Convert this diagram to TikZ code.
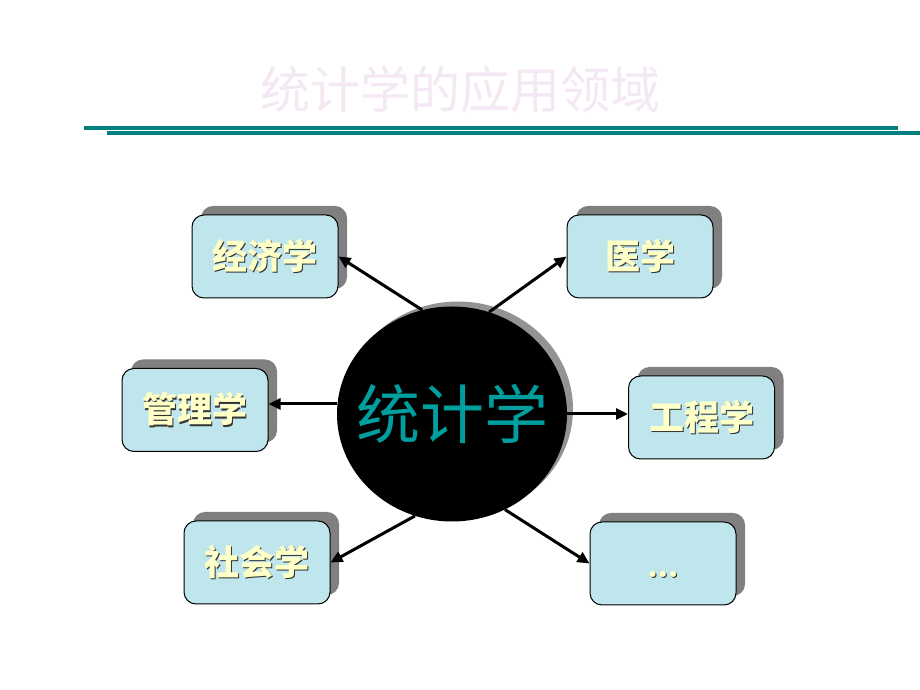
\documentclass[tikz,border=0pt]{standalone}
\usepackage{fontspec}
\newfontfamily\cjk{Noto Sans CJK SC}
\usetikzlibrary{arrows.meta, shapes.geometric, shadows}

\definecolor{boxfill}{RGB}{190,230,236}
\definecolor{tealline}{RGB}{0,128,128}
\definecolor{stattext}{RGB}{0,158,158}
\definecolor{labelyellow}{RGB}{255,255,200}
\definecolor{titlepink}{RGB}{244,232,244}

% yellow label text with a dark edge
\newcommand{\shadowtxt}[1]{\makebox[0pt][l]{\hspace{1.3pt}\raisebox{-1.3pt}{\color{black!80}#1}}{#1}}

\begin{document}
\begin{tikzpicture}[x=1pt, y=1pt,
    field/.style={draw=black, line width=1pt, fill=boxfill, rounded corners=12pt,
      minimum width=146pt, minimum height=83pt, inner sep=0pt, text=labelyellow,
      font=\cjk\bfseries\fontsize{35}{40}\selectfont,
      drop shadow={shadow xshift=9pt, shadow yshift=9pt, fill=gray, opacity=1}},
    link/.style={line width=3pt, -{Triangle[length=12pt, width=11pt]}}]
  \useasboundingbox (0,0) rectangle (920,690);

  % Title and rules
  \node[text=titlepink, font=\cjk\fontsize{50}{56}\selectfont] (title) at (460,601) {统计学的应用领域};
  \draw[tealline, line width=3.5pt] (84,562) -- (898,562);
  \draw[tealline, line width=3.5pt] (107,557) -- (920,557);

  % Centre
  \node[ellipse, fill=black, minimum width=230pt, minimum height=215pt, inner sep=0pt,
    drop shadow={shadow xshift=6pt, shadow yshift=5pt, fill=gray!85, opacity=1},
    text=stattext, font=\cjk\fontsize{64}{70}\selectfont] (stat) at (452,276) {\makebox[0pt]{统计学}};

  % Fields
  \node[field] (econ) at (265,433.5) {\shadowtxt{经济学}};
  \node[field] (med) at (640,433.5) {\shadowtxt{医学}};
  \node[field] (mgmt) at (195,280) {\shadowtxt{管理学}};
  \node[field] (eng) at (701.5,272.5) {\shadowtxt{工程学}};
  \node[field] (soc) at (257,127.5) {\shadowtxt{社会学}};
  \node[field] (more) at (663,126.5) {\shadowtxt{\rmfamily\fontsize{42}{46}\selectfont …}\vphantom{学}};

  % Arrows
  \draw[link] (stat.106) -- (econ.east);
  \draw[link] (stat.70) -- (med.west);
  \draw[link] (stat.175) -- (stat.175 -| mgmt.east);
  \draw[link] (stat.east) -- (stat.east -| eng.west);
  \draw[link] (stat.250) -- (soc.east);
  \draw[link] (stat.299) -- (more.west);
\end{tikzpicture}
\end{document}
